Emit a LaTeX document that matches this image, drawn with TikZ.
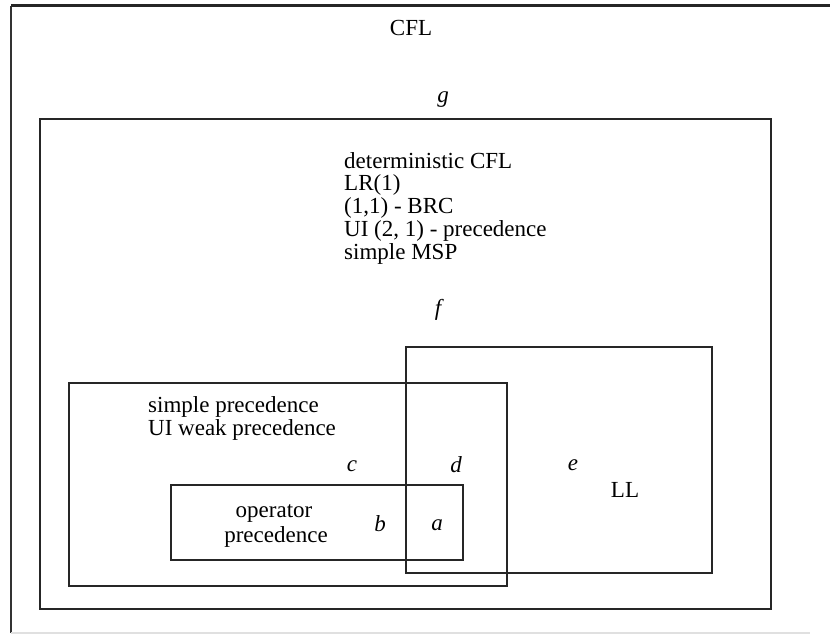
\documentclass[tikz,border=0pt]{standalone}
\usepackage{fontspec}
\setmainfont{Liberation Serif}
\begin{document}
\begin{tikzpicture}[x=1pt,y=-1pt,
  box/.style={draw=black!85,line width=2pt},
  lbl/.style={inner sep=0pt,font=\fontsize{23}{24}\selectfont},
  let/.style={inner sep=0pt,font=\fontsize{23}{24}\selectfont\itshape}]
\useasboundingbox (0,0) rectangle (830,634);
% outer CFL frame (right side cropped)
\coordinate (o1) at (11,633);
\coordinate (o2) at (11,6);
\coordinate (o3) at (830,6);
\coordinate (o4) at (810,633);
\draw[line width=1.5pt,black!80] (o1) -- (o2);
\draw[line width=3pt,black!85] (o2) -- (o3);
\draw[line width=1.2pt,black!12] (o1) -- (o4);
% boxes
\draw[box] (40,119) rectangle (771,609);
\draw[box] (406,347) rectangle (712,573);
\draw[box] (69,383) rectangle (507,586);
\draw[box] (171,485) rectangle (463,560);
% texts
\node[lbl] (cfl) at (411,28) {CFL};
\node[let] (g) at (443,100) {g};
\node[lbl,anchor=west] (t1) at (344,161) {deterministic CFL};
\node[lbl,anchor=west] (t2) at (344,185) {LR(1)};
\node[lbl,anchor=west] (t3) at (344,208) {(1,1) - BRC};
\node[lbl,anchor=west] (t4) at (344,231) {UI (2, 1) - precedence};
\node[lbl,anchor=west] (t5) at (344,254) {simple MSP};
\node[let] (f) at (438,310) {f};
\node[lbl,anchor=west] (s1) at (148,407) {simple precedence};
\node[lbl,anchor=west] (s2) at (148,430) {UI weak precedence};
\node[let] (c) at (352,466) {c};
\node[let] (d) at (456,465) {d};
\node[let] (e) at (573,465) {e};
\node[lbl] (ll) at (625,490) {LL};
\node[lbl] (op1) at (274,513) {operator};
\node[lbl] (op2) at (276,537) {precedence};
\node[let] (b) at (380,524) {b};
\node[let] (a) at (437,525) {a};
\end{tikzpicture}
\end{document}
